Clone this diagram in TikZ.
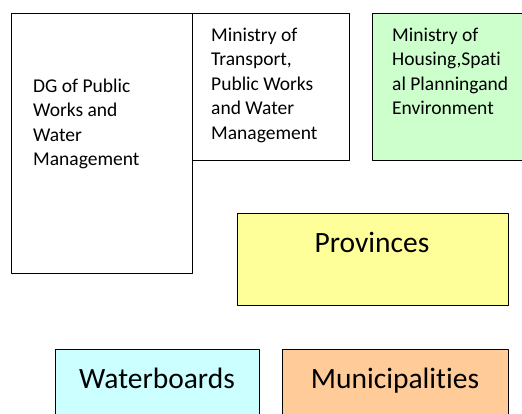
\documentclass[tikz,border=0pt]{standalone}
\usepackage{fontspec}
\setmainfont{Carlito}[Ligatures=NoCommon]
\definecolor{housegreen}{HTML}{CCFFCC}
\definecolor{provyellow}{HTML}{FFFF99}
\definecolor{watercyan}{HTML}{CCFFFF}
\definecolor{muniorange}{HTML}{FFCC99}
\begin{document}
\begin{tikzpicture}[x=1pt,y=-1pt,line join=round,
	box/.style={draw,line width=0.9pt,inner sep=0pt,outer sep=0pt},
	txt/.style={font=\fontsize{19.5}{24.5}\selectfont,align=left,inner sep=0pt,anchor=base west},
	bigtxt/.style={font=\fontsize{29.5}{35}\selectfont,inner sep=0pt,anchor=base}]
	\useasboundingbox (0,0) rectangle (522,413);
	\clip (0,0) rectangle (522,413);
	% boxes
	\node[box,minimum width=181pt,minimum height=260pt] (dg) at (101.5,143) {};
	\node[box,minimum width=157pt,minimum height=147pt] (mintrans) at (270.5,86.5) {};
	\node[box,fill=housegreen,minimum width=158pt,minimum height=147pt] (minhousing) at (451,86.5) {};
	\node[box,fill=provyellow,minimum width=271pt,minimum height=92pt] (provinces) at (372.5,259) {};
	\node[box,fill=watercyan,minimum width=204pt,minimum height=72pt] (waterboards) at (157,385) {};
	\node[box,fill=muniorange,minimum width=226pt,minimum height=72pt] (municipalities) at (395,385) {};
	% texts (base = last line)
	\node[txt] (dgtxt) at (33,165.5) {DG of Public\\Works and\\Water\\Management};
	\node[txt] (mintranstxt) at (211,139) {Ministry of\\Transport,\\Public Works\\and Water\\Management};
	\node[txt] (minhousingtxt) at (392,114.5) {Ministry of\\Housing,Spati\\al Planningand\\Environment};
	\node[bigtxt] (provincestxt) at (372,252) {Provinces};
	\node[bigtxt] (waterboardstxt) at (157,388) {Waterboards};
	\node[bigtxt] (municipalitiestxt) at (395,388) {Municipalities};
\end{tikzpicture}
\end{document}
